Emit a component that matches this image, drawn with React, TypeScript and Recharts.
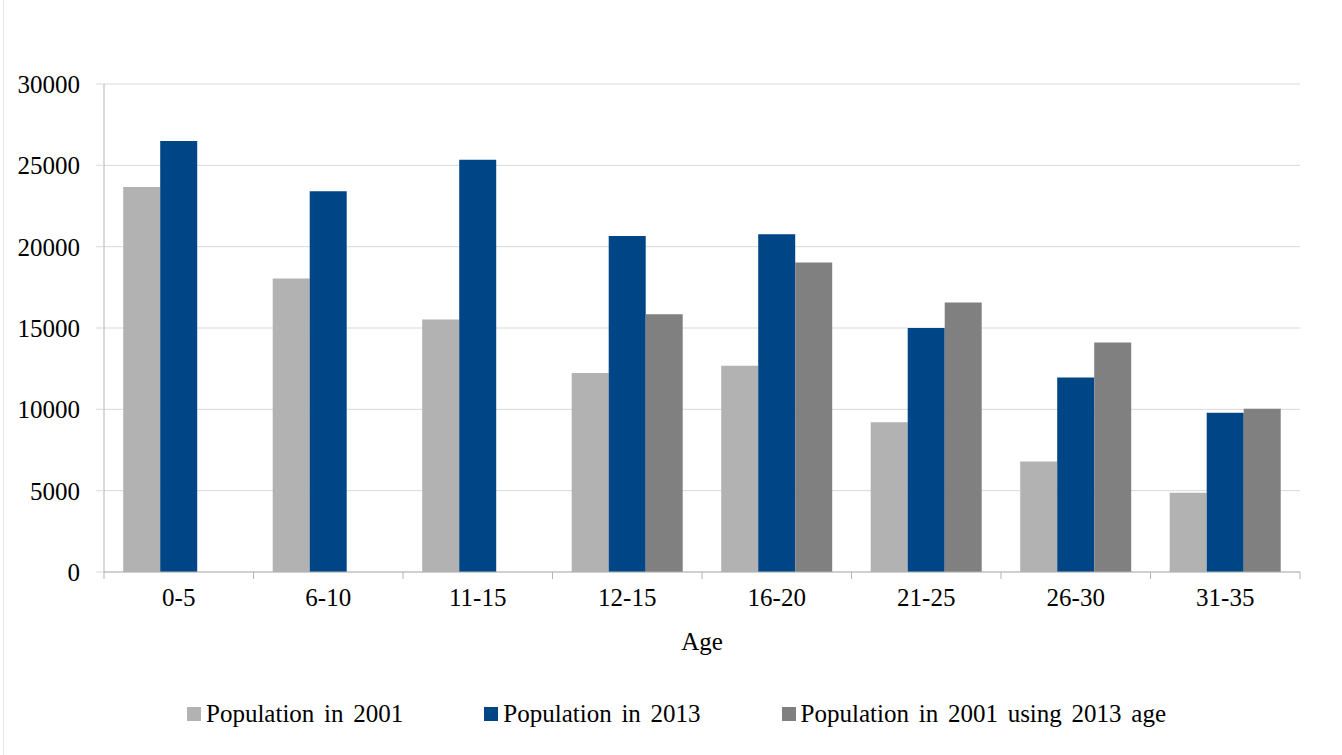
import React from "react"
import { BarChart, Bar, XAxis, YAxis, CartesianGrid } from "recharts"

const ageGroups = ["0-5", "6-10", "11-15", "12-15", "16-20", "21-25", "26-30", "31-35"]
const pop2001 = [23670, 18050, 15530, 12230, 12680, 9200, 6800, 4870]
const pop2013 = [26500, 23400, 25350, 20650, 20770, 15000, 11960, 9790]
const pop2001At2013Age = [null, null, null, 15850, 19030, 16570, 14110, 10030]
const yTicks = [0, 5000, 10000, 15000, 20000, 25000, 30000]

const series = [
  { key: "p2001", name: "Population in 2001", color: "#b2b2b2" },
  { key: "p2013", name: "Population in 2013", color: "#004586" },
  { key: "p2001b", name: "Population in 2001 using 2013 age", color: "#808080" },
]

const data = ageGroups.map((age, i) => ({
  age,
  p2001: pop2001[i],
  p2013: pop2013[i],
  p2001b: pop2001At2013Age[i],
}))

const CHART_W = 1342
const CHART_H = 755
const MARGIN = { top: 84, right: 42, bottom: 103, left: 0 }
const Y_AXIS_W = 104
const PLOT_W = CHART_W - MARGIN.left - MARGIN.right - Y_AXIS_W
const BAND = PLOT_W / ageGroups.length
const FONT = "'Liberation Serif', 'Times New Roman', serif"
const FONT_SIZE = 25
const AXIS_COLOR = "#b3b3b3"
const GRID_COLOR = "#d9d9d9"

function AgeTick(props: any) {
  const { x, y, payload, index } = props
  const last = index === ageGroups.length - 1
  return (
    <g>
      <line x1={x - BAND / 2} x2={x - BAND / 2} y1={y} y2={y + 7} stroke={AXIS_COLOR} />
      {last && <line x1={x + BAND / 2} x2={x + BAND / 2} y1={y} y2={y + 7} stroke={AXIS_COLOR} />}
      <text x={x} y={y + 34} textAnchor="middle" fontSize={FONT_SIZE} fill="#000" fontFamily={FONT}>
        {payload.value}
      </text>
    </g>
  )
}

export default function App() {
  return (
    <div
      style={{
        position: "absolute",
        left: 0,
        top: 0,
        width: CHART_W,
        height: CHART_H,
        background: "#fff",
        fontFamily: FONT,
      }}
    >
      <div style={{ position: "absolute", left: 3, top: 0, width: 1, height: CHART_H, background: "#e6e6e6" }} />
      <BarChart
        width={CHART_W}
        height={CHART_H}
        data={data}
        margin={MARGIN}
        barCategoryGap="12.85%"
        barGap={0}
      >
        <CartesianGrid vertical={false} stroke={GRID_COLOR} yAxisId="left" />
        <XAxis
          dataKey="age"
          height={80}
          tickLine={false}
          tickSize={0}
          tickMargin={0}
          stroke={AXIS_COLOR}
          tick={<AgeTick />}
          interval={0}
          label={{ value: "Age", position: "insideTop", dy: 55, fontSize: FONT_SIZE, fill: "#000", fontFamily: FONT }}
        />
        <YAxis
          yAxisId="left"
          width={Y_AXIS_W}
          domain={[0, 30000]}
          ticks={yTicks}
          interval={0}
          stroke={AXIS_COLOR}
          tickLine={{ stroke: GRID_COLOR }}
          tickSize={8}
          tickMargin={16}
          tick={{ fontSize: FONT_SIZE, fill: "#000", fontFamily: FONT }}
        />
        <YAxis
          yAxisId="right"
          orientation="right"
          width={0}
          domain={[0, 30000]}
          tick={false}
          tickLine={false}
          stroke={GRID_COLOR}
        />
        {series.map((s) => (
          <Bar
            key={s.key}
            yAxisId="left"
            dataKey={s.key}
            name={s.name}
            fill={s.color}
            isAnimationActive={false}
          />
        ))}
      </BarChart>
      <div
        style={{
          position: "absolute",
          left: 187,
          top: 700,
          display: "flex",
          alignItems: "center",
          gap: 81,
          fontSize: FONT_SIZE,
          wordSpacing: "3.5px",
          lineHeight: "28px",
          color: "#000",
          whiteSpace: "nowrap",
        }}
      >
        {series.map((s) => (
          <div key={s.key} style={{ display: "flex", alignItems: "center" }}>
            <span style={{ display: "inline-block", width: 14, height: 14, background: s.color, marginRight: 5 }} />
            <span>{s.name}</span>
          </div>
        ))}
      </div>
    </div>
  )
}
